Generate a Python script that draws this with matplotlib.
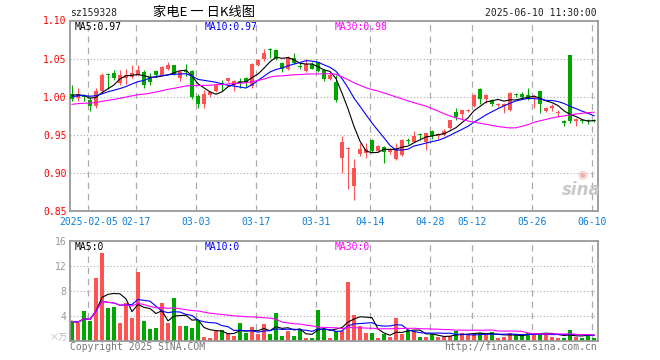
import matplotlib
matplotlib.use('Agg')
import matplotlib.pyplot as plt
import numpy as np
import pandas as pd

#
# DATA
#

TICKER = 'sz159328'
TITLE = '家电E 一 日K线图'
TIMESTAMP = '2025-06-10 11:30:00'

# closes before the first visible candle, only used to warm up the price moving averages
pre_close = [0.978, 0.981, 0.984, 0.982, 0.986, 0.989, 0.987, 0.983, 0.980, 0.984,
             0.988, 0.991, 0.986, 0.982, 0.985, 0.988, 0.990, 0.987, 0.984, 0.985,
             0.992, 0.995, 0.998, 0.999, 1.006, 1.001, 1.004, 1.006, 1.002]

open_ = [1.003, 0.998, 1.001, 0.996, 0.988, 1.007, 1.030, 1.031, 1.018, 1.024,
         1.026, 1.029, 1.033, 1.026, 1.034, 1.028, 1.036, 1.041, 1.024, 1.033,
         1.034, 1.001, 0.991, 1.002, 1.008, 1.018, 1.020, 1.016, 1.020, 1.025,
         1.014, 1.042, 1.049, 1.062, 1.061, 1.044, 1.036, 1.051, 1.040, 1.034,
         1.043, 1.045, 1.035, 1.023, 1.019, 0.920, 0.931, 0.883, 0.925, 0.926,
         0.943, 0.929, 0.934, 0.927, 0.918, 0.924, 0.943, 0.941, 0.951, 0.941,
         0.955, 0.949, 0.950, 0.959, 0.980, 0.977, 0.981, 0.988, 1.010, 0.997,
         0.996, 0.989, 0.988, 0.982, 1.003, 1.003, 1.002, 0.998, 1.007, 0.981,
         0.985, 0.978, 0.968, 1.055, 0.968, 0.970, 0.970, 0.970]
high = [1.015, 1.011, 1.004, 0.999, 1.011, 1.031, 1.031, 1.035, 1.035, 1.036,
        1.041, 1.041, 1.035, 1.031, 1.035, 1.040, 1.046, 1.042, 1.035, 1.043,
        1.035, 1.003, 1.009, 1.008, 1.018, 1.022, 1.025, 1.022, 1.024, 1.026,
        1.044, 1.049, 1.063, 1.064, 1.062, 1.046, 1.054, 1.058, 1.045, 1.049,
        1.045, 1.046, 1.036, 1.031, 1.028, 0.948, 0.934, 0.918, 0.939, 0.939,
        0.945, 0.937, 0.935, 0.933, 0.939, 0.944, 0.946, 0.955, 0.952, 0.953,
        0.956, 0.953, 0.957, 0.970, 0.985, 0.983, 0.984, 1.003, 1.011, 1.004,
        0.997, 0.992, 0.992, 1.006, 1.005, 1.006, 1.012, 1.002, 1.008, 0.986,
        0.990, 0.982, 0.970, 1.055, 0.972, 0.971, 0.971, 0.971]
low = [0.995, 0.995, 0.995, 0.981, 0.985, 1.005, 1.010, 1.022, 1.016, 1.017,
       1.024, 1.027, 1.012, 1.016, 1.026, 1.027, 1.035, 1.028, 1.021, 1.027,
       0.997, 0.985, 0.985, 0.999, 1.006, 1.008, 1.019, 1.008, 1.011, 1.013,
       1.012, 1.040, 1.047, 1.051, 1.048, 1.033, 1.035, 1.043, 1.036, 1.033,
       1.036, 1.033, 1.020, 1.022, 0.993, 0.900, 0.879, 0.865, 0.922, 0.920,
       0.928, 0.927, 0.913, 0.925, 0.917, 0.922, 0.938, 0.940, 0.943, 0.930,
       0.945, 0.944, 0.949, 0.958, 0.970, 0.970, 0.980, 0.987, 0.990, 0.992,
       0.988, 0.986, 0.978, 0.981, 0.999, 0.997, 0.996, 0.985, 0.978, 0.980,
       0.981, 0.974, 0.962, 0.966, 0.962, 0.966, 0.964, 0.967]
close = [0.997, 1.004, 0.999, 0.988, 1.007, 1.029, 1.029, 1.024, 1.028, 1.028,
         1.031, 1.035, 1.015, 1.019, 1.028, 1.039, 1.041, 1.030, 1.032, 1.032,
         1.000, 0.991, 1.003, 1.006, 1.016, 1.016, 1.024, 1.020, 1.019, 1.019,
         1.043, 1.048, 1.058, 1.061, 1.049, 1.036, 1.052, 1.044, 1.039, 1.043,
         1.037, 1.034, 1.023, 1.029, 0.996, 0.941, 0.932, 0.907, 0.932, 0.932,
         0.929, 0.935, 0.927, 0.931, 0.933, 0.943, 0.942, 0.949, 0.950, 0.952,
         0.949, 0.951, 0.955, 0.969, 0.973, 0.982, 0.982, 1.002, 0.997, 1.002,
         0.990, 0.991, 0.991, 1.005, 1.002, 1.000, 0.997, 1.000, 0.991, 0.985,
         0.988, 0.978, 0.965, 0.968, 0.971, 0.968, 0.968, 0.968]

# volume in units of 10k
volume = [3.1, 2.8, 4.7, 3.1, 10.1, 14.0, 5.3, 5.4, 2.8, 6.1,
          3.7, 11.1, 3.1, 1.8, 2.1, 6.0, 2.9, 6.9, 2.3, 2.3,
          2.1, 3.3, 0.6, 0.5, 1.6, 1.7, 1.2, 0.8, 2.8, 1.2,
          2.2, 1.0, 2.6, 1.0, 4.5, 0.8, 1.5, 0.8, 1.9, 0.5,
          0.4, 5.0, 1.9, 0.5, 1.5, 1.6, 9.5, 4.2, 2.4, 1.2,
          1.2, 0.4, 1.0, 0.6, 3.6, 1.0, 1.7, 1.6, 0.6, 0.6,
          1.0, 0.6, 0.6, 0.8, 1.6, 1.3, 1.0, 1.0, 1.3, 1.0,
          1.4, 0.4, 0.6, 1.2, 1.0, 0.8, 1.3, 1.3, 1.3, 1.3,
          0.6, 0.5, 0.5, 1.7, 0.6, 0.5, 1.1, 0.4]

date_ticks = [3, 11, 21, 31, 41, 50, 60, 67, 77, 87]
date_labels = ['2025-02-05', '02-17', '03-03', '03-17', '03-31',
               '04-14', '04-28', '05-12', '05-26', '06-10']

price_ticks = [0.85, 0.90, 0.95, 1.00, 1.05, 1.10]
volume_ticks = [4, 8, 12, 16]

price_ma_labels = ['MA5:0.97', 'MA10:0.97', 'MA30:0.98']
volume_ma_labels = ['MA5:0', 'MA10:0', 'MA30:0']

#
# STYLE
#

W, H = 660, 360
RED = '#ff5353'
GREEN = '#00a600'
MA_COLORS = ['black', '#0000ff', '#ff00ff']
GRID = '#aaaaaa'
FRAME = '#999999'
MONO = 'DejaVu Sans Mono'
CJK = ['Noto Sans CJK SC', 'DejaVu Sans']

plt.rcParams['font.family'] = MONO
plt.rcParams['font.size'] = 7


def px(x, y):
    return x / W, 1 - y / H


def axes_box(left, top, right, bottom):
    return [left / W, 1 - bottom / H, (right - left) / W, (bottom - top) / H]


def style_axes(ax):
    for s in ax.spines.values():
        s.set_color(FRAME)
        s.set_linewidth(1.3)
    ax.tick_params(length=0)
    for t in date_ticks:
        ax.axvline(t - 0.28, color=GRID, lw=0.9, ls=(0, (5, 4)), zorder=0)
    ax.set_xlim(-0.33, 87.58)


#
# PLOT
#

fig = plt.figure(figsize=(W / 100, H / 100), dpi=100)
ax_k = fig.add_axes(axes_box(70, 20.5, 597.5, 211))
ax_v = fig.add_axes(axes_box(70, 241, 597.5, 340.7))

x = np.arange(len(close))
o = np.array(open_)
c = np.array(close)
up = c >= o
colors = np.where(up, RED, GREEN)

# candles
ax_k.vlines(x, low, high, colors=colors, lw=0.8, zorder=2)
body = np.maximum(np.abs(c - o), 0.0014)
ax_k.bar(x, body, bottom=np.minimum(o, c), width=0.72, color=colors, zorder=3)

full = pd.Series(pre_close + close)
for n, col in zip([5, 10, 30], MA_COLORS):
    ma = full.rolling(n).mean().iloc[len(pre_close):].values
    ax_k.plot(x, ma, color=col, lw=0.8, zorder=4)

style_axes(ax_k)
ax_k.set_ylim(0.85, 1.10)
for p in price_ticks[1:-1]:
    ax_k.axhline(p, color=GRID, lw=0.8, ls=(0, (1, 2)), zorder=0)
ax_k.set_yticks(price_ticks)
ax_k.set_yticklabels(['%.2f' % p for p in price_ticks])
ax_k.tick_params(axis='y', colors='#ff0000', pad=2.5)
ax_k.set_xticks(np.array(date_ticks) - 0.28)
ax_k.set_xticklabels(date_labels)
ax_k.tick_params(axis='x', colors='#0a7fd6', pad=4)

# volume
ax_v.bar(x, volume, width=0.8, color=colors, zorder=2)
vol = pd.Series(volume)
for n, col in zip([5, 10, 30], MA_COLORS):
    ax_v.plot(x, vol.rolling(n, min_periods=1).mean(), color=col, lw=0.8, zorder=3)

style_axes(ax_v)
ax_v.set_ylim(0, 16)
for v in volume_ticks[:-1]:
    ax_v.axhline(v, color=GRID, lw=0.8, ls=(0, (1, 2)), zorder=0)
ax_v.set_yticks(volume_ticks)
ax_v.set_yticklabels([str(v) for v in volume_ticks])
ax_v.tick_params(axis='y', colors='#999999', pad=2.5)
ax_v.set_xticks([])

#
# TEXTS
#

fig.text(*px(70, 13), TICKER, ha='left', va='center', color='#222222')
fig.text(*px(204, 12), TITLE, ha='center', va='center', family=CJK, fontsize=9.5)
fig.text(*px(597, 13), TIMESTAMP, ha='right', va='center', color='#222222')

for lx, lab, col in zip([75, 205, 335], price_ma_labels, MA_COLORS):
    fig.text(*px(lx, 27), lab, ha='left', va='center', color=col)
for lx, lab, col in zip([75, 205, 335], volume_ma_labels, MA_COLORS):
    fig.text(*px(lx, 246.5), lab, ha='left', va='center', color=col)

fig.text(*px(67, 338), '×万', ha='right', va='center', color='#bbbbbb',
         family=CJK, fontsize=6.5)
fig.text(*px(70, 347), 'Copyright 2025 SINA.COM', ha='left', va='center', color='#777777')
fig.text(*px(597, 347), 'http://finance.sina.com.cn', ha='right', va='center', color='#777777')

fig.text(*px(581, 190), 'sina', ha='center', va='center', color='#c8c8c8',
         fontsize=12, fontweight='bold', style='italic', family='DejaVu Sans')
fig.text(*px(582, 175), '◉', ha='center', va='center', color='#f0b0b0',
         fontsize=8, family='DejaVu Sans')

fig.savefig('out.png', dpi=100)
